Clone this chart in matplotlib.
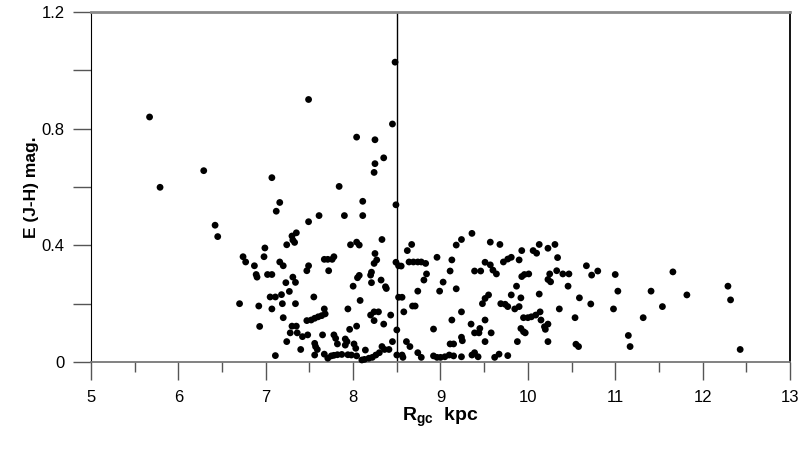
import matplotlib
matplotlib.use("Agg")
import matplotlib.pyplot as plt

plt.rcParams['font.family'] = ['Liberation Sans', 'DejaVu Sans']
plt.rcParams['mathtext.fontset'] = 'custom'
plt.rcParams['mathtext.rm'] = 'Liberation Sans'
plt.rcParams['mathtext.bf'] = 'Liberation Sans:bold'

# galactocentric distance (kpc) and colour excess E(J-H)
r_gc = [8.48, 7.49, 5.67, 8.45, 8.04, 8.25, 8.35, 8.25, 8.24, 6.29, 7.07, 5.79, 7.84,
        7.16, 7.12, 6.42, 6.45, 7.30, 7.35, 7.31, 7.33, 7.24, 6.99, 6.74, 6.77, 6.98,
        6.87, 7.16, 7.20, 6.89, 6.90, 7.02, 7.07, 7.31, 7.23, 7.34, 7.05, 7.11, 7.18,
        7.27, 6.70, 6.92, 7.07, 7.19, 7.34, 7.20, 6.93, 7.30, 7.35, 7.28, 7.36, 7.24,
        7.11,
        8.49, 8.11, 8.11, 7.90, 7.61, 7.49, 8.33, 7.97, 8.04, 8.07, 8.25, 8.27, 8.24,
        8.21, 8.20, 8.21, 8.32, 8.37, 8.38, 8.49, 8.52, 7.67, 7.71, 7.76, 7.78, 7.72,
        7.49, 7.47, 8.07, 8.05, 8.00, 8.08, 7.55, 7.47, 7.52, 7.56, 7.60, 7.64, 7.68,
        7.67, 7.94, 8.24, 8.29, 8.20, 8.24, 8.43, 8.35, 8.50, 8.04, 7.96, 7.42, 7.48,
        7.65, 7.78, 7.80, 7.91, 7.93, 7.56, 7.57, 7.59, 7.82, 7.91, 8.01, 8.03, 8.14,
        7.40, 7.56, 7.67, 7.71, 7.75, 7.78, 7.82, 7.87, 7.94, 7.98, 8.04, 8.10, 8.13,
        8.18, 8.22, 8.26, 8.30, 8.33, 8.36, 8.41, 8.45, 8.50,
        8.67, 8.62, 8.55, 8.64, 8.69, 8.74, 8.78, 8.83, 8.84, 8.81, 8.74, 8.96, 9.03,
        8.99, 9.13, 9.11, 9.18, 9.18, 9.24, 9.36, 9.39, 9.46, 9.57, 9.51, 9.57, 9.60,
        9.64, 9.55, 9.51, 9.48, 8.52, 8.56, 8.68, 8.71, 8.58, 9.24, 9.13, 8.92, 9.35,
        9.51, 9.39, 9.45, 9.44, 9.58, 9.24, 9.25, 9.51, 9.11, 9.15, 8.61, 8.65, 8.74,
        8.78, 8.56, 8.57, 8.92, 8.96, 9.00, 9.05, 9.10, 9.15, 9.24, 9.36, 9.39, 9.43,
        9.62, 9.67,
        9.68, 9.72, 9.77, 9.81, 9.90, 9.93, 9.93, 9.96, 10.01, 10.06, 10.10, 10.13,
        10.23, 10.31, 10.34, 10.25, 10.23, 10.26, 10.33, 10.40, 10.47, 10.46, 10.67,
        10.73, 10.80, 9.87, 9.81, 9.92, 10.13, 10.59, 10.72, 9.69, 9.74, 9.77, 9.85,
        9.90, 10.36, 9.95, 10.00, 10.04, 10.09, 10.14, 10.15, 10.19, 10.23, 10.20,
        10.54, 9.92, 9.95, 9.97, 9.88, 10.23, 10.55, 10.58, 9.77,
        11.00, 11.66, 11.03, 11.41, 11.82, 10.98, 11.54, 11.32, 11.15, 11.17,
        12.29, 12.32, 12.43]

e_jh = [1.028, 0.90, 0.84, 0.816, 0.771, 0.762, 0.70, 0.68, 0.65, 0.656, 0.632, 0.599, 0.602,
        0.547, 0.517, 0.469, 0.43, 0.432, 0.443, 0.418, 0.41, 0.402, 0.391, 0.361, 0.343, 0.361,
        0.33, 0.343, 0.33, 0.30, 0.291, 0.30, 0.30, 0.291, 0.272, 0.273, 0.223, 0.223, 0.231,
        0.242, 0.20, 0.192, 0.182, 0.20, 0.20, 0.152, 0.122, 0.123, 0.123, 0.10, 0.10, 0.07,
        0.022,
        0.539, 0.551, 0.502, 0.502, 0.502, 0.481, 0.42, 0.402, 0.411, 0.401, 0.372, 0.35, 0.338,
        0.308, 0.298, 0.272, 0.281, 0.258, 0.252, 0.342, 0.33, 0.352, 0.352, 0.352, 0.361, 0.313,
        0.33, 0.313, 0.297, 0.289, 0.26, 0.211, 0.223, 0.142, 0.144, 0.15, 0.155, 0.159, 0.165,
        0.182, 0.182, 0.172, 0.172, 0.161, 0.142, 0.161, 0.13, 0.11, 0.123, 0.112, 0.087, 0.093,
        0.093, 0.093, 0.081, 0.079, 0.07, 0.064, 0.053, 0.043, 0.062, 0.058, 0.062, 0.047, 0.041,
        0.043, 0.024, 0.027, 0.013, 0.021, 0.023, 0.025, 0.026, 0.025, 0.024, 0.021, 0.007, 0.009,
        0.013, 0.016, 0.024, 0.032, 0.053, 0.043, 0.043, 0.07, 0.024,
        0.403, 0.382, 0.329, 0.343, 0.343, 0.343, 0.343, 0.338, 0.302, 0.281, 0.243, 0.359, 0.274,
        0.243, 0.35, 0.312, 0.251, 0.401, 0.42, 0.441, 0.312, 0.312, 0.411, 0.342, 0.333, 0.315,
        0.302, 0.23, 0.218, 0.20, 0.222, 0.222, 0.192, 0.192, 0.172, 0.172, 0.144, 0.113, 0.13,
        0.144, 0.10, 0.115, 0.10, 0.10, 0.085, 0.073, 0.07, 0.062, 0.062, 0.07, 0.053, 0.032,
        0.016, 0.024, 0.016, 0.021, 0.016, 0.016, 0.018, 0.024, 0.021, 0.018, 0.024, 0.032, 0.018,
        0.016, 0.027,
        0.403, 0.343, 0.353, 0.359, 0.35, 0.382, 0.293, 0.30, 0.302, 0.382, 0.373, 0.403,
        0.39, 0.403, 0.358, 0.302, 0.283, 0.275, 0.313, 0.302, 0.302, 0.26, 0.33,
        0.298, 0.312, 0.26, 0.23, 0.22, 0.233, 0.22, 0.199, 0.20, 0.198, 0.19, 0.182,
        0.19, 0.182, 0.152, 0.152, 0.155, 0.161, 0.172, 0.144, 0.121, 0.13, 0.112,
        0.152, 0.115, 0.104, 0.10, 0.07, 0.07, 0.061, 0.053, 0.022,
        0.30, 0.309, 0.243, 0.243, 0.23, 0.182, 0.19, 0.152, 0.091, 0.053,
        0.26, 0.213, 0.043]

x_ticks = [5, 6, 7, 8, 9, 10, 11, 12, 13]
y_ticks = [0, 0.4, 0.8, 1.2]
y_tick_labels = ['0', '0.4', '0.8', '1.2']
sun_r = 8.5

fig = plt.figure(figsize=(8.02, 4.54), dpi=100)
ax = fig.add_axes([0.1135, 0.2026, 0.8715, 0.771])

ax.scatter(r_gc, e_jh, s=24, color='black', edgecolors='none', zorder=3, clip_on=False)
ax.axvline(sun_r, color='black', linewidth=1.0, zorder=2)

ax.set_xlim(5, 13)
ax.set_ylim(0, 1.2)
ax.set_xticks(x_ticks)
ax.set_xticks([v + 0.5 for v in x_ticks[:-1]], minor=True)
ax.set_yticks(y_ticks)
ax.set_yticklabels(y_tick_labels)
ax.set_yticks([0.2, 0.6, 1.0], minor=True)

ax.tick_params(axis='x', which='major', direction='out', length=13, width=1,
               color='#555555', pad=7, labelsize=12)
ax.tick_params(axis='x', which='minor', direction='out', length=7, width=1, color='#555555')
ax.tick_params(axis='y', which='both', direction='out', length=13, width=1,
               color='#555555', pad=6, labelsize=12)

ax.spines['top'].set_color('#8a8a8a')
ax.spines['top'].set_linewidth(2)
ax.spines['bottom'].set_color('#777777')
ax.spines['bottom'].set_linewidth(1.3)
ax.spines['left'].set_color('black')
ax.spines['right'].set_color('black')
ax.spines['right'].set_linewidth(1.3)

ax.set_ylabel('E (J-H) mag.', fontsize=12.5, fontweight='bold', labelpad=2)
ax.set_xlabel(r'$\mathbf{R_{gc}}$  kpc', fontsize=14, fontweight='bold', labelpad=1)

fig.savefig('out.png', dpi=100)
